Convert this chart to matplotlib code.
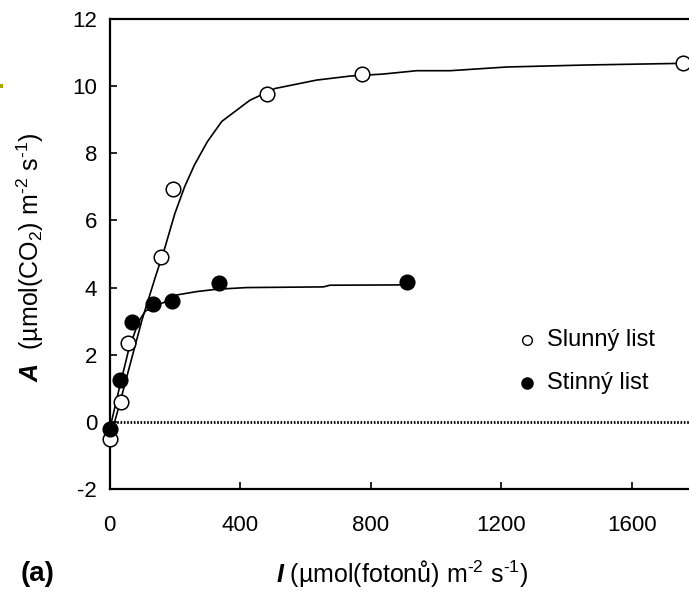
import matplotlib
matplotlib.use("Agg")
import matplotlib.pyplot as plt
from matplotlib.patches import Rectangle

plt.rcParams['font.family'] = ['Liberation Sans', 'DejaVu Sans']
plt.rcParams['mathtext.fontset'] = 'custom'
plt.rcParams['mathtext.rm'] = 'Liberation Sans'
plt.rcParams['mathtext.it'] = 'Liberation Sans:italic'
plt.rcParams['mathtext.bf'] = 'Liberation Sans:bold'
plt.rcParams['mathtext.bfit'] = 'Liberation Sans:bold:italic'

# measured points
sun_I = [0, 34, 58, 159, 194, 483, 773, 1756]
sun_A = [-0.5, 0.6, 2.36, 4.9, 6.93, 9.76, 10.36, 10.7]
shade_I = [0, 32, 68, 134, 192, 335, 910]
shade_A = [-0.22, 1.25, 2.97, 3.51, 3.61, 4.13, 4.18]

# fitted curves
sun_fit_I = [0, 30, 60, 100, 124, 140, 170, 200, 230, 260, 300, 344, 430, 507,
             634, 737, 838, 941, 1043, 1216, 1461, 1760]
sun_fit_A = [-0.55, 0.5, 1.6, 3.05, 3.8, 4.3, 5.2, 6.2, 7.0, 7.65, 8.35, 8.95, 9.58,
             9.93, 10.18, 10.3, 10.36, 10.46, 10.46, 10.57, 10.63, 10.68]
shade_fit_I = [0, 30, 60, 90, 110, 140, 172, 206, 267, 328, 420, 655, 675, 910]
shade_fit_A = [-0.25, 1.0, 2.2, 3.0, 3.3, 3.45, 3.58, 3.78, 3.88, 3.95, 4.0, 4.02,
               4.07, 4.08]

x_ticks = [0, 400, 800, 1200, 1600]
y_ticks = [-2, 0, 2, 4, 6, 8, 10, 12]

fig = plt.figure(figsize=(6.89, 5.92), dpi=100)
ax = fig.add_axes([109.5/689, 1-489/592, 1-109.5/689, (489-19)/592])
ax.set_xlim(0, (689-109.5)/0.3265)
ax.set_ylim(-2, 12)

ax.plot([0, 1800], [0, 0], color='black', lw=2.0, linestyle=(0, (0.6, 0.6)),
        dash_capstyle='butt', zorder=1)
ax.plot(sun_fit_I, sun_fit_A, color='black', lw=1.2, zorder=2)
ax.plot(shade_fit_I, shade_fit_A, color='black', lw=1.2, zorder=2)
ax.plot(sun_I, sun_A, linestyle='none', marker='o', ms=10.5, mfc='white',
        mec='black', mew=1.1, clip_on=False, zorder=3)
ax.plot(shade_I, shade_A, linestyle='none', marker='o', ms=10.5, mfc='black',
        mec='black', mew=1.1, clip_on=False, zorder=4)

ax.set_xticks(x_ticks)
ax.set_yticks(y_ticks)
ax.set_xticklabels([str(v) for v in x_ticks])
ax.set_yticklabels([str(v) for v in y_ticks])
ax.tick_params(axis='x', direction='in', length=5, width=1.2, pad=19, labelsize=16)
ax.tick_params(axis='y', direction='in', length=5, width=1.2, pad=9, labelsize=16)
for s in ['left', 'bottom', 'top']:
    ax.spines[s].set_linewidth(1.6)
ax.spines['right'].set_visible(False)

# legend
ax.plot([(527-109.5)/0.3265], [(422-340)/33.6], marker='o', ms=7, mfc='white',
        mec='black', mew=1.0, linestyle='none')
ax.plot([(527-109.5)/0.3265], [(422-383)/33.6], marker='o', ms=8, mfc='black',
        mec='black', linestyle='none')
ax.text((547-109.5)/0.3265, (422-340)/33.6, 'Slunný list', fontsize=17, va='center', ha='left')
ax.text((547-109.5)/0.3265, (422-383)/33.6, 'Stinný list', fontsize=17, va='center', ha='left')

fig.text(30/689, 1-257/592,
         r'$\mathbfit{A}$  (µmol(CO$_2$) m$^{\text{-}2}$ s$^{\text{-}1}$)',
         rotation=90, ha='center', va='center', fontsize=18)
fig.text(402/689, 1-574/592,
         r'$\mathbfit{I}$ (µmol(fotonů) m$^{\text{-}2}$ s$^{\text{-}1}$)',
         ha='center', va='center', fontsize=18)
fig.text(38/689, 1-574/592, '(a)', ha='center', va='center', fontsize=20,
         fontweight='bold')
fig.add_artist(Rectangle((0, 1-88/592), 3/689, 4/592, transform=fig.transFigure,
                         color='#a8a800', lw=0))

fig.savefig('out.png', dpi=100)
